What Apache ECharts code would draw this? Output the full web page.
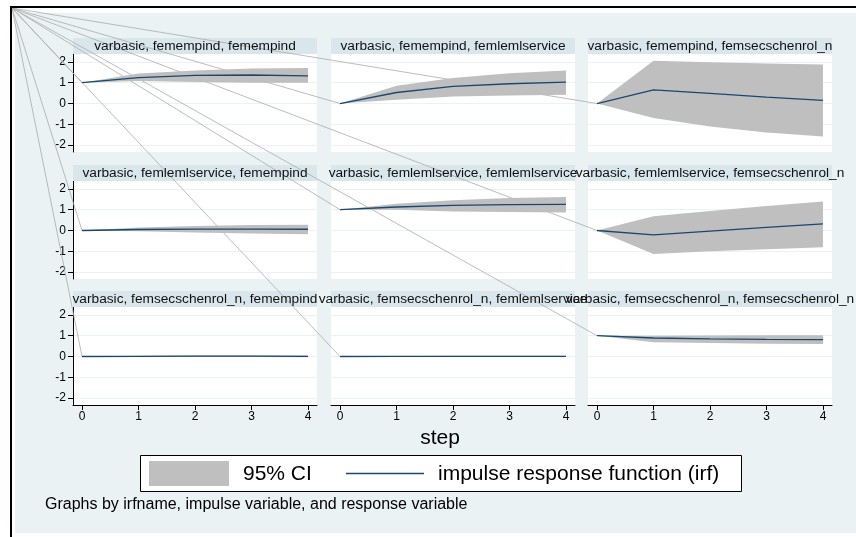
<!DOCTYPE html>
<html><head><meta charset="utf-8">
<script src="https://cdn.jsdelivr.net/npm/echarts@6/dist/echarts.min.js"></script>
<style>html,body{margin:0;padding:0;background:#fff}#c{width:856px;height:537px}</style>
</head><body><div id="c"></div>
<script>
// ---------- data ----------
const steps = [0, 1, 2, 3, 4];
const xTicks = [0, 1, 2, 3, 4];
const yTicks = [-2, -1, 0, 1, 2];
const irfName = 'varbasic';
const impulseNames = ['femempind', 'femlemlservice', 'femsecschenrol_n'];
const responseNames = ['femempind', 'femlemlservice', 'femsecschenrol_n'];
const xTitle = 'step';
const legendCI = '95% CI';
const legendIRF = 'impulse response function (irf)';
const noteText = 'Graphs by irfname, impulse variable, and response variable';

// row = impulse, column = response
const irf11 = [1.00, 1.24, 1.35, 1.37, 1.33];
const lo11  = [1.00, 1.08, 1.03, 1.00, 1.00];
const hi11  = [1.00, 1.44, 1.59, 1.68, 1.71];
const irf12 = [0.00, 0.53, 0.82, 0.95, 1.03];
const lo12  = [0.00, 0.18, 0.34, 0.39, 0.42];
const hi12  = [0.00, 0.86, 1.23, 1.46, 1.59];
const irf13 = [0.00, 0.66, 0.49, 0.31, 0.15];
const lo13  = [0.00, -0.70, -1.10, -1.39, -1.58];
const hi13  = [0.00, 2.06, 1.98, 1.92, 1.87];
const irf21 = [0.00, 0.05, 0.07, 0.07, 0.06];
const lo21  = [0.00, -0.03, -0.09, -0.14, -0.18];
const hi21  = [0.00, 0.14, 0.22, 0.26, 0.28];
const irf22 = [1.00, 1.13, 1.21, 1.24, 1.26];
const lo22  = [1.00, 1.00, 0.92, 0.89, 0.87];
const hi22  = [1.00, 1.29, 1.45, 1.56, 1.61];
const irf23 = [0.00, -0.21, -0.03, 0.15, 0.32];
const lo23  = [0.00, -1.13, -1.00, -0.90, -0.81];
const hi23  = [0.00, 0.69, 0.94, 1.18, 1.40];
const irf31 = [0.00, 0.01, 0.02, 0.02, 0.01];
const lo31  = [0.00, -0.02, -0.02, -0.02, -0.03];
const hi31  = [0.00, 0.04, 0.05, 0.05, 0.05];
const irf32 = [0.00, 0.01, 0.01, 0.01, 0.01];
const lo32  = [0.00, -0.02, -0.02, -0.02, -0.02];
const hi32  = [0.00, 0.03, 0.04, 0.04, 0.04];
const irf33 = [1.00, 0.89, 0.85, 0.82, 0.81];
const lo33  = [1.00, 0.69, 0.65, 0.61, 0.60];
const hi33  = [1.00, 1.00, 1.01, 1.02, 1.02];

const panels = [
  [[irf11, lo11, hi11], [irf12, lo12, hi12], [irf13, lo13, hi13]],
  [[irf21, lo21, hi21], [irf22, lo22, hi22], [irf23, lo23, hi23]],
  [[irf31, lo31, hi31], [irf32, lo32, hi32], [irf33, lo33, hi33]]
];

// ---------- layout / style ----------
const FONT = '"Liberation Sans", Arial, sans-serif';
const colLeft = [73, 331, 588];
const rowTop = [54, 181, 307];
const plotW = 244, plotH = 98, stripH = 16;
const corner = [12, 8];
const C_BG = '#EAF2F3', C_STRIP = '#D9E6EB', C_CI = '#BFBFBF', C_IRF = '#1A476F';

const chart = echarts.init(document.getElementById('c'), null, { renderer: 'canvas' });

const grids = [], xAxes = [], yAxes = [], series = [], graphics = [];

graphics.push({ type: 'rect', z: -10, shape: { x: 15, y: 13, width: 841, height: 520 }, style: { fill: C_BG } });
graphics.push({ type: 'rect', z: 5, shape: { x: 10, y: 6, width: 2, height: 531 }, style: { fill: '#000' } });
graphics.push({ type: 'rect', z: 5, shape: { x: 10, y: 6, width: 846, height: 2 }, style: { fill: '#000' } });

function bandRenderer(lo, hi) {
  return function (params, api) {
    if (params.dataIndex !== 0) return null;
    const pts = [];
    for (let i = 0; i < steps.length; i++) pts.push(api.coord([steps[i], hi[i]]));
    for (let i = steps.length - 1; i >= 0; i--) pts.push(api.coord([steps[i], lo[i]]));
    return { type: 'polygon', shape: { points: pts }, style: { fill: C_CI } };
  };
}
function connectorRenderer(params, api) {
  const p = api.coord([api.value(0), api.value(1)]);
  return { type: 'line', shape: { x1: corner[0], y1: corner[1], x2: p[0], y2: p[1] },
           style: { stroke: '#ABABAB', lineWidth: 0.8 } };
}

let k = 0;
for (let r = 0; r < 3; r++) {
  for (let c = 0; c < 3; c++) {
    const [irf, lo, hi] = panels[r][c];
    grids.push({ left: colLeft[c], top: rowTop[r], width: plotW, height: plotH,
                 show: true, backgroundColor: '#fff', borderWidth: 0 });
    const bottomRow = r === 2, leftCol = c === 0;
    xAxes.push({
      type: 'value', gridIndex: k, min: -0.16, max: 4.16,
      axisLine: { show: bottomRow, onZero: false, lineStyle: { color: '#000', width: 1 } },
      axisTick: { show: bottomRow, length: 5, customValues: xTicks, lineStyle: { color: '#000' } },
      axisLabel: { show: bottomRow, customValues: xTicks, fontSize: 12, fontFamily: FONT, color: '#000', margin: 6 },
      splitLine: { show: false }
    });
    yAxes.push({
      type: 'value', gridIndex: k, min: -2.33, max: 2.38,
      axisLine: { show: leftCol, onZero: false, lineStyle: { color: '#000', width: 1 } },
      axisTick: { show: leftCol, length: 5, customValues: yTicks, lineStyle: { color: '#000' } },
      axisLabel: { show: leftCol, customValues: yTicks, fontSize: 12, fontFamily: FONT, color: '#000', margin: 7 },
      splitLine: { show: true, lineStyle: { color: C_BG, width: 1 } }
    });
    series.push({
      type: 'custom', xAxisIndex: k, yAxisIndex: k, z: 2, clip: false, silent: true,
      renderItem: connectorRenderer, data: [[steps[0], irf[0]]]
    });
    series.push({
      type: 'custom', name: legendCI, xAxisIndex: k, yAxisIndex: k, z: 3, silent: true,
      renderItem: bandRenderer(lo, hi), data: steps.map((s, i) => [s, lo[i], hi[i]])
    });
    series.push({
      type: 'line', name: legendIRF, xAxisIndex: k, yAxisIndex: k, z: 4, silent: true,
      symbol: 'none', lineStyle: { color: C_IRF, width: 1.3 },
      data: steps.map((s, i) => [s, irf[i]])
    });
    // strip title
    graphics.push({ type: 'rect', z: 1, shape: { x: colLeft[c], y: rowTop[r] - stripH, width: plotW, height: stripH },
                    style: { fill: C_STRIP } });
    graphics.push({ type: 'text', z: 6, x: colLeft[c] + plotW / 2, y: rowTop[r] - stripH / 2 + 0.5,
                    style: { text: irfName + ', ' + impulseNames[r] + ', ' + responseNames[c],
                             align: 'center', verticalAlign: 'middle', fontSize: 13.7, fontFamily: FONT, fill: '#111' } });
    k++;
  }
}

// x title
graphics.push({ type: 'text', z: 6, x: 440, y: 438,
  style: { text: xTitle, align: 'center', verticalAlign: 'middle', fontSize: 21, fontFamily: FONT, fill: '#000' } });

// legend
graphics.push({ type: 'rect', z: 6, shape: { x: 140.5, y: 455.5, width: 601, height: 36 },
  style: { fill: '#fff', stroke: '#000', lineWidth: 1 } });
graphics.push({ type: 'rect', z: 7, shape: { x: 149, y: 461, width: 80, height: 25 }, style: { fill: C_CI } });
graphics.push({ type: 'text', z: 7, x: 243, y: 474,
  style: { text: legendCI, align: 'left', verticalAlign: 'middle', fontSize: 21, fontFamily: FONT, fill: '#000' } });
graphics.push({ type: 'line', z: 7, shape: { x1: 346, y1: 473.5, x2: 424, y2: 473.5 }, style: { stroke: C_IRF, lineWidth: 1.5 } });
graphics.push({ type: 'text', z: 7, x: 438, y: 474,
  style: { text: legendIRF, align: 'left', verticalAlign: 'middle', fontSize: 21, fontFamily: FONT, fill: '#000' } });

// note
graphics.push({ type: 'text', z: 6, x: 45, y: 505,
  style: { text: noteText, align: 'left', verticalAlign: 'middle', fontSize: 16, fontFamily: FONT, fill: '#000' } });

chart.setOption({
  animation: false,
  backgroundColor: '#fff',
  grid: grids, xAxis: xAxes, yAxis: yAxes, series: series,
  graphic: { elements: graphics }
});
</script></body></html>
